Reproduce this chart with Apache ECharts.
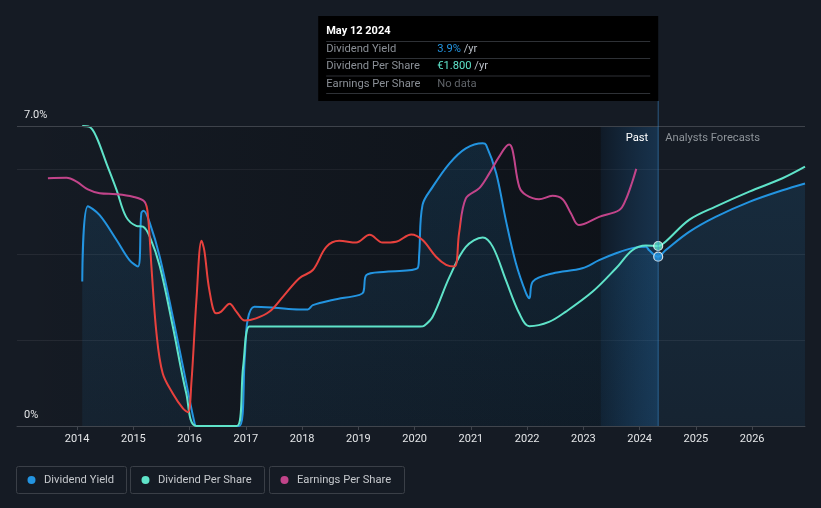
<!DOCTYPE html>
<html><head><meta charset="utf-8">
<script src="https://cdn.jsdelivr.net/npm/echarts@6/dist/echarts.min.js"></script>
<style>html,body{margin:0;padding:0;background:#151b24;}#c{width:821px;height:508px;}</style>
</head><body><div id="c"></div>
<script>
// ---- data (x = decimal year, y = plotted value on the 0–7 scale) ----
const years = [2014,2015,2016,2017,2018,2019,2020,2021,2022,2023,2024,2025,2026];
const yLabelValues = [0, 7];
const divYield = [[2014.09,3.37],[2014.19,5.13],[2014.40,4.92],[2014.70,4.34],[2014.93,3.87],[2015.08,3.72],[2015.14,4.97],[2015.18,5.02],[2015.29,4.74],[2015.47,3.94],[2015.70,2.55],[2015.94,1.0],[2016.09,0.05],[2016.12,0],[2016.88,0],[2016.98,1.6],[2017.03,2.47],[2017.15,2.78],[2017.5,2.76],[2017.95,2.72],[2018.10,2.72],[2018.19,2.82],[2018.54,2.94],[2019.02,3.06],[2019.09,3.13],[2019.14,3.52],[2019.49,3.6],[2020.05,3.68],[2020.08,4.0],[2020.14,5.16],[2020.32,5.58],[2020.62,6.13],[2020.91,6.48],[2021.21,6.6],[2021.27,6.56],[2021.45,5.9],[2021.62,4.81],[2021.80,3.8],[2021.98,3.1],[2022.04,2.98],[2022.10,3.37],[2022.45,3.56],[2022.98,3.68],[2023.28,3.87],[2023.58,4.03],[2023.87,4.15],[2024.11,4.18],[2024.17,4.1],[2024.33,3.95],[2024.46,4.1],[2024.88,4.53],[2025.35,4.88],[2025.95,5.23],[2026.54,5.5],[2026.94,5.66]];
const divPerShare = [[2014.09,7.0],[2014.22,6.98],[2014.34,6.75],[2014.52,6.13],[2014.70,5.51],[2014.87,4.88],[2015.05,4.67],[2015.17,4.65],[2015.29,4.42],[2015.47,3.72],[2015.70,2.32],[2015.94,0.76],[2016.12,0],[2016.84,0],[2016.95,1.38],[2017.06,2.32],[2017.2,2.32],[2020.1,2.32],[2020.17,2.34],[2020.32,2.55],[2020.62,3.48],[2020.91,4.18],[2021.21,4.4],[2021.39,4.18],[2021.62,3.41],[2021.86,2.63],[2022.04,2.33],[2022.39,2.43],[2022.69,2.67],[2023.16,3.13],[2023.58,3.68],[2023.87,4.1],[2024.11,4.21],[2024.33,4.2],[2024.46,4.3],[2024.88,4.81],[2025.35,5.12],[2025.95,5.47],[2026.54,5.78],[2026.94,6.05]];
const earningsPerShare = [[2013.48,5.78],[2013.81,5.79],[2013.99,5.7],[2014.19,5.52],[2014.40,5.43],[2014.70,5.41],[2014.99,5.35],[2015.20,5.23],[2015.26,4.88],[2015.32,3.72],[2015.41,2.16],[2015.52,1.23],[2015.70,0.76],[2015.88,0.41],[2015.97,0.32],[2016.03,1.0],[2016.12,2.94],[2016.21,4.32],[2016.26,4.1],[2016.35,3.17],[2016.47,2.63],[2016.56,2.67],[2016.71,2.85],[2016.83,2.67],[2016.98,2.46],[2017.18,2.51],[2017.42,2.67],[2017.66,3.02],[2017.95,3.45],[2018.19,3.64],[2018.43,4.18],[2018.66,4.32],[2018.96,4.28],[2019.20,4.46],[2019.43,4.28],[2019.67,4.3],[2019.94,4.47],[2020.14,4.34],[2020.38,3.95],[2020.56,3.76],[2020.71,3.72],[2020.79,4.5],[2020.91,5.31],[2021.15,5.55],[2021.33,5.9],[2021.50,6.28],[2021.68,6.57],[2021.74,6.44],[2021.86,5.58],[2021.98,5.39],[2022.21,5.29],[2022.45,5.37],[2022.63,5.29],[2022.78,4.96],[2022.92,4.69],[2023.28,4.88],[2023.64,5.04],[2023.75,5.27],[2023.87,5.7],[2023.94,6.0]];
const epsDeclineStart = 2015.22, epsDeclineEnd = 2020.82;
const xMin = 2012.93, xMax = 2026.94;
const pastBandStart = 2023.31, today = 2024.33;
const todayYield = 3.95, todayDps = 4.2;
const tooltipDate = 'May 12 2024';
const tooltipRows = [['Dividend Yield','3.9%',' /yr'],['Dividend Per Share','€1.800',' /yr'],['Earnings Per Share','No data','']];
const legendItems = ['Dividend Yield','Dividend Per Share','Earnings Per Share'];

const BLUE='#2394e0', TEAL='#5fe3c9', PINK='#c2448a', RED='#e8413d';
const FONT='Roboto, "Noto Sans", sans-serif';

const chart = echarts.init(document.getElementById('c'), null, {renderer:'canvas'});
const option = {
  backgroundColor:'#151b24',
  animation:false,
  textStyle:{fontFamily:FONT},
  grid:{left:17,right:16,top:126,bottom:82},
  xAxis:{type:'value',min:xMin,max:xMax,
    axisLine:{lineStyle:{color:'#40454d',width:1}},
    axisTick:{customValues:years,length:4,lineStyle:{color:'#40454d'}},
    axisLabel:{customValues:years,color:'#e4e6e8',fontSize:11,margin:8,fontFamily:FONT,formatter:v=>String(Math.round(v))},
    splitLine:{show:false}},
  yAxis:{type:'value',min:0,max:7,interval:2,
    axisLine:{show:false},axisTick:{show:false},
    splitLine:{lineStyle:{color:'#252a33',width:1}},
    axisLabel:{customValues:yLabelValues,inside:true,margin:7,align:'left',verticalAlign:'bottom',padding:[0,0,5,0],
      color:'#e4e6e8',fontSize:11,fontFamily:FONT,formatter:v=>v>=7?'7.0%':'0%'}},
  visualMap:{type:'piecewise',show:false,seriesIndex:2,dimension:0,
    pieces:[{lt:epsDeclineStart,color:PINK},{gte:epsDeclineStart,lt:epsDeclineEnd,color:RED},{gte:epsDeclineEnd,color:PINK}]},
  series:[
    {name:'Dividend Yield',type:'line',data:divYield,smooth:0.35,showSymbol:false,z:3,
      lineStyle:{color:BLUE,width:2},
      areaStyle:{color:new echarts.graphic.LinearGradient(0,0,0,1,[{offset:0,color:'rgba(35,148,224,0.2)'},{offset:1,color:'rgba(35,148,224,0.1)'}])},
      markArea:{silent:true,data:[
        [{xAxis:xMin,yAxis:0,itemStyle:{color:new echarts.graphic.LinearGradient(0,0,1,0,[{offset:0,color:'rgba(4,6,9,0)'},{offset:1,color:'rgba(4,6,9,0.4)'}])}},{xAxis:pastBandStart,yAxis:7}],
        [{xAxis:pastBandStart,yAxis:0,itemStyle:{color:new echarts.graphic.LinearGradient(0,0,1,0,[{offset:0,color:'rgba(5,25,45,0.35)'},{offset:1,color:'rgba(30,110,180,0.28)'}])}},{xAxis:today,yAxis:7}]
      ]},
      markLine:{silent:true,symbol:'none',label:{show:false},lineStyle:{color:'#3e434b',width:1,type:'solid'},data:[{yAxis:7}]}
    },
    {name:'Dividend Per Share',type:'line',data:divPerShare,smooth:0.35,showSymbol:false,z:4,lineStyle:{color:TEAL,width:2}},
    {name:'Earnings Per Share',type:'line',data:earningsPerShare,smooth:0.35,showSymbol:false,z:5,lineStyle:{width:2}},
    {type:'scatter',data:[[today,todayDps]],symbolSize:9,z:10,itemStyle:{color:TEAL,borderColor:'#ffffff',borderWidth:1.2}},
    {type:'scatter',data:[[today,todayYield]],symbolSize:9,z:10,itemStyle:{color:BLUE,borderColor:'#ffffff',borderWidth:1.2}}
  ]
};
chart.setOption(option);

const px = chart.convertToPixel({xAxisIndex:0}, today);
const axisY = chart.convertToPixel({yAxisIndex:0}, 0);
const topY = chart.convertToPixel({yAxisIndex:0}, 7);
const boxW = 340, boxL = px - boxW, tx = boxL + 8, vx = boxL + 119;
const g = [];
g.push({type:'line',shape:{x1:px,y1:101,x2:px,y2:axisY},style:{stroke:'rgba(60,140,210,0.55)',lineWidth:1},z:20});
g.push({type:'rect',shape:{x:boxL,y:16,width:boxW,height:85},style:{fill:'#000000'},z:30});
g.push({type:'text',x:tx,y:31,style:{text:tooltipDate,fill:'#ffffff',font:'bold 11px '+FONT,verticalAlign:'middle'},z:31});
[41.5,58.5,76,93.5].forEach(y=>g.push({type:'line',shape:{x1:tx,y1:y,x2:px-8,y2:y},style:{stroke:'#2e3136',lineWidth:1},z:31}));
const rowY=[49.5,66.5,84], valColors=[BLUE,TEAL,'#5f6368'];
tooltipRows.forEach((r,i)=>{
  g.push({type:'text',x:tx,y:rowY[i],style:{text:r[0],fill:'#8a8f96',font:'11.2px '+FONT,verticalAlign:'middle'},z:31});
  g.push({type:'text',x:vx,y:rowY[i],style:{text:'{v|'+r[1]+'}{u|'+r[2]+'}',verticalAlign:'middle',
    rich:{v:{fill:valColors[i],font:'11.2px '+FONT},u:{fill:'#b9bec6',font:'11.2px '+FONT}}},z:31});
});
g.push({type:'text',x:px-10,y:topY+12,style:{text:'Past',fill:'#ffffff',font:'11.2px '+FONT,align:'right',verticalAlign:'middle'},z:20});
g.push({type:'text',x:px+7,y:topY+12,style:{text:'Analysts Forecasts',fill:'#8d9399',font:'11.2px '+FONT,align:'left',verticalAlign:'middle'},z:20});
// legend
const lgX=[16,130,269], lgW=[110,134,135], lgC=[BLUE,TEAL,PINK];
legendItems.forEach((t,i)=>{
  g.push({type:'rect',shape:{x:lgX[i]+0.5,y:466.5,width:lgW[i],height:27,r:2},style:{fill:'none',stroke:'#3a3f47',lineWidth:1},z:20});
  g.push({type:'circle',shape:{cx:lgX[i]+15.5,cy:480,r:4},style:{fill:lgC[i]},z:20});
  g.push({type:'text',x:lgX[i]+28,y:480,style:{text:t,fill:'#c5c8cc',font:'11.2px '+FONT,verticalAlign:'middle'},z:20});
});
chart.setOption({graphic:g});
</script></body></html>
